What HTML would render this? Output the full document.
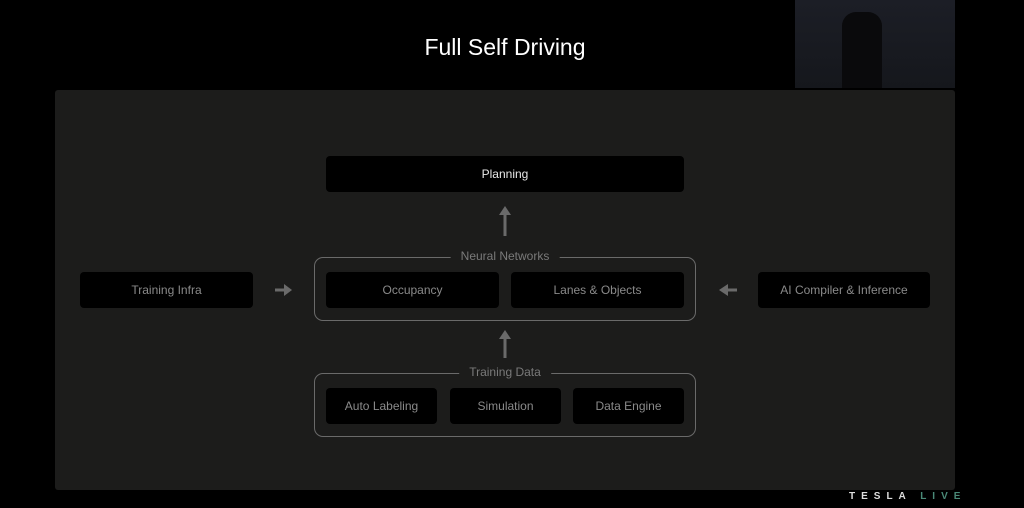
<!DOCTYPE html><html><head><style>
body{margin:0;width:1024px;height:508px;background:#000;position:relative;overflow:hidden;font-family:"Liberation Sans",sans-serif}
.a{position:absolute}
.b{position:absolute;background:#000;border-radius:4px;color:#8a8a8a;font-size:12px;display:flex;align-items:center;justify-content:center}
.g{position:absolute;border:1.5px solid #6a6a6a;border-radius:9px;box-sizing:border-box}
.l{position:absolute;background:#1c1c1b;color:#7a7a7a;font-size:12px;padding:0 10px;transform:translateX(-50%)}
</style></head><body>
<div class="a" style="left:0;top:34px;width:1010px;text-align:center;color:#fff;font-size:23px">Full Self Driving</div>
<div class="a" style="left:795px;top:0;width:160px;height:88px;background:linear-gradient(#1c1e26,#15171c)"></div>
<div class="a" style="left:842px;top:12px;width:40px;height:76px;background:#0a0a0c;border-radius:14px 14px 0 0"></div>
<div class="a" style="left:55px;top:90px;width:900px;height:400px;background:#1c1c1b;border-radius:3px"></div>
<div class="b" style="left:326px;top:156px;width:358px;height:36px;color:#e8e8e8">Planning</div>
<svg class="a" style="left:0;top:0" width="1024" height="508">
<g fill="#6a6a6a"><rect x="503.5" y="214" width="3" height="22"/><polygon points="499,215 511,215 505,206"/>
<rect x="503.5" y="338" width="3" height="20"/><polygon points="499,339 511,339 505,330"/>
<rect x="275" y="288.5" width="10" height="3"/><polygon points="284,284 284,296 292,290"/>
<rect x="727" y="288.5" width="10" height="3"/><polygon points="728,284 728,296 719,290"/></g></svg>
<div class="g" style="left:314px;top:257px;width:382px;height:64px"></div>
<div class="l" style="left:505px;top:249px">Neural Networks</div>
<div class="b" style="left:326px;top:272px;width:173px;height:36px">Occupancy</div>
<div class="b" style="left:511px;top:272px;width:173px;height:36px">Lanes &amp; Objects</div>
<div class="g" style="left:314px;top:373px;width:382px;height:64px"></div>
<div class="l" style="left:505px;top:365px">Training Data</div>
<div class="b" style="left:326px;top:388px;width:111px;height:36px">Auto Labeling</div>
<div class="b" style="left:450px;top:388px;width:111px;height:36px">Simulation</div>
<div class="b" style="left:573px;top:388px;width:111px;height:36px">Data Engine</div>
<div class="b" style="left:80px;top:272px;width:173px;height:36px">Training Infra</div>
<div class="b" style="left:758px;top:272px;width:172px;height:36px">AI Compiler &amp; Inference</div>
<div class="a" style="left:849px;top:491px;font-size:10px;letter-spacing:6px;font-weight:bold;color:#ddd;white-space:nowrap">TESLA <span style="color:#4a8a78">LIVE</span></div>
</body></html>
